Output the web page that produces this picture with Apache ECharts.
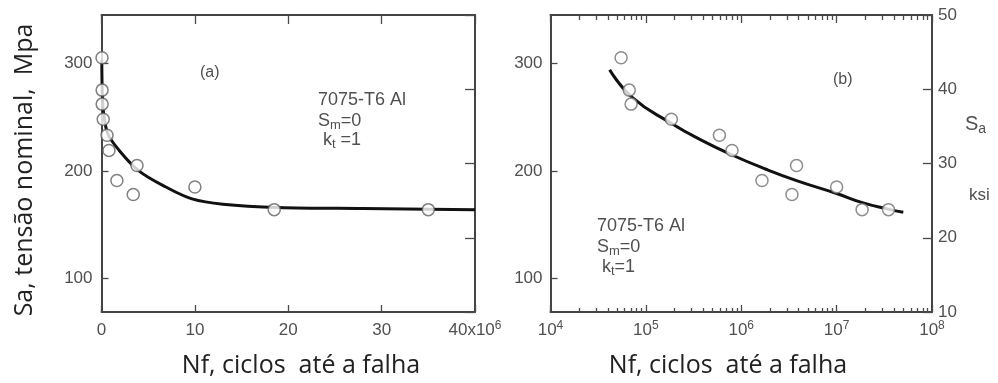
<!DOCTYPE html>
<html>
<head>
<meta charset="utf-8">
<title>7075-T6 Al - Sa x Nf</title>
<script src="https://cdn.jsdelivr.net/npm/echarts@6/dist/echarts.min.js"></script>
<style>
  html, body { margin: 0; padding: 0; background: #fff; }
  #chart { width: 998px; height: 383px; }
</style>
</head>
<body>
<div id="chart"></div>
<script>
  // pontos experimentais: Nf (ciclos) e Sa (MPa)
  var nfPoints = [5.5e4, 6.7e4, 7.0e4, 1.85e5, 5.9e5, 8.0e5, 1.65e6, 3.4e6, 3.8e6, 1.0e7, 1.85e7, 3.5e7];
  var saPoints = [305, 275, 262, 248, 233, 219, 191, 178, 205, 185, 164, 164];

  // curva ajustada do painel (a), eixo linear
  var curveANf = [0.03e6, 0.1e6, 0.25e6, 0.7e6, 1.9e6, 4.0e6, 6.9e6, 9.7e6, 13e6, 19e6, 28e6, 40e6];
  var curveASa = [303, 268, 252, 234, 219, 200, 185, 174, 169, 166, 165, 164];

  // curva ajustada do painel (b), eixo log
  var curveBNf = [4.17e4, 7.24e4, 1.86e5, 3.72e5, 8.13e5, 1.82e6, 3.8e6, 1.0e7, 1.86e7, 3.47e7, 5.0e7];
  var curveBSa = [294, 268, 244, 229, 214.5, 201.5, 191, 179, 170.5, 164.5, 161.5];

  var mpaTicks = [100, 200, 300];
  var ksiMin = 10, ksiMax = 50;          // eixo da direita
  var mpaPerKsi = 6.8948;
  var minorSteps = [2, 3, 4, 5, 6, 7, 8, 9];
  var decades = [4, 5, 6, 7];

  // posicoes (em log10) dos tracos menores do painel (b)
  var minorLog = [];
  decades.forEach(function (d) {
    minorSteps.forEach(function (m) { minorLog.push(d + Math.log10(m)); });
  });

  function pairs(xs, ys) {
    return xs.map(function (x, i) { return [x, ys[i]]; });
  }

  var frame = '#444';
  var numColor = '#505050';
  var numFont = 'Liberation Sans';
  var rich = {
    n: { fontSize: 17, fontFamily: numFont, color: numColor, lineHeight: 20 },
    sup: { fontSize: 12, fontFamily: numFont, color: numColor, lineHeight: 20, verticalAlign: 'top' }
  };

  function line(show) {
    return { show: show, onZero: false, lineStyle: { color: frame, width: 2 } };
  }
  function ticks(len, extra) {
    var t = { show: true, inside: true, length: len, lineStyle: { color: '#4a4a4a', width: 1.3 } };
    for (var k in extra) t[k] = extra[k];
    return t;
  }
  var noLabel = { show: false };
  var minorLabel = { show: true, customValues: minorLog, formatter: function () { return ''; } };

  var subRich = {
    s: { fontSize: 18, fontFamily: numFont, fill: numColor, lineHeight: 22 },
    b: { fontSize: 13, fontFamily: numFont, fill: numColor, lineHeight: 22, verticalAlign: 'bottom' }
  };
  function note(x, y, text) {
    return {
      type: 'text', x: x, y: y,
      style: { text: text, align: 'left', verticalAlign: 'middle', rich: subRich }
    };
  }
  function plain(x, y, text, size) {
    return {
      type: 'text', x: x, y: y,
      style: { text: text, font: size + 'px "Liberation Sans"', fill: numColor, align: 'left', verticalAlign: 'middle' }
    };
  }

  var chart = echarts.init(document.getElementById('chart'));

  chart.setOption({
    animation: false,
    backgroundColor: '#fff',
    grid: [
      { left: 101.5, right: 523, top: 15, bottom: 71, outerBoundsMode: 'none' },
      { left: 550.5, right: 66, top: 15, bottom: 71, outerBoundsMode: 'none' },
      // mesma area do painel (b), so para os tracos menores
      { left: 550.5, right: 66, top: 15, bottom: 71, outerBoundsMode: 'none' }
    ],
    xAxis: [
      {
        gridIndex: 0, type: 'value', position: 'bottom', min: 0, max: 40e6, interval: 10e6,
        axisLine: line(true), axisTick: ticks(7), splitLine: { show: false },
        axisLabel: {
          margin: 8, fontSize: 17, fontFamily: numFont, color: numColor, rich: rich,
          formatter: function (v) {
            var m = Math.round(v / 1e6);
            return m === 40 ? '{n|40x10}{sup|6}' : '{n|' + m + '}';
          }
        }
      },
      {
        gridIndex: 0, type: 'value', position: 'top', min: 0, max: 40e6, interval: 10e6,
        axisLine: line(true), axisTick: ticks(9), splitLine: { show: false }, axisLabel: noLabel
      },
      {
        gridIndex: 1, type: 'log', logBase: 10, position: 'bottom', min: 1e4, max: 1e8,
        axisLine: line(true), axisTick: ticks(7), splitLine: { show: false },
        axisLabel: {
          margin: 8, fontSize: 17, fontFamily: numFont, color: numColor, rich: rich,
          formatter: function (v) {
            return '{n|10}{sup|' + Math.round(Math.log10(v)) + '}';
          }
        }
      },
      {
        gridIndex: 1, type: 'log', logBase: 10, position: 'top', min: 1e4, max: 1e8,
        axisLine: line(true), axisTick: ticks(8), splitLine: { show: false }, axisLabel: noLabel
      },
      {
        gridIndex: 2, type: 'value', position: 'bottom', min: 4, max: 8,
        axisLine: line(false), axisTick: ticks(4, { customValues: minorLog }),
        splitLine: { show: false }, axisLabel: minorLabel
      },
      {
        gridIndex: 2, type: 'value', position: 'top', min: 4, max: 8,
        axisLine: line(false), axisTick: ticks(5, { customValues: minorLog }),
        splitLine: { show: false }, axisLabel: minorLabel
      }
    ],
    yAxis: [
      {
        gridIndex: 0, type: 'value', position: 'left',
        min: ksiMin * mpaPerKsi, max: ksiMax * mpaPerKsi,
        axisLine: line(true), axisTick: ticks(7, { customValues: mpaTicks }),
        splitLine: { show: false },
        axisLabel: { customValues: mpaTicks, margin: 9, fontSize: 17, fontFamily: numFont, color: numColor }
      },
      {
        gridIndex: 0, type: 'value', position: 'right', min: ksiMin, max: ksiMax, interval: 10,
        axisLine: line(true), axisTick: ticks(10), splitLine: { show: false }, axisLabel: noLabel
      },
      {
        gridIndex: 1, type: 'value', position: 'left',
        min: ksiMin * mpaPerKsi, max: ksiMax * mpaPerKsi,
        axisLine: line(true), axisTick: ticks(7, { customValues: mpaTicks }),
        splitLine: { show: false },
        axisLabel: { customValues: mpaTicks, margin: 8, fontSize: 17, fontFamily: numFont, color: numColor }
      },
      {
        gridIndex: 1, type: 'value', position: 'right', min: ksiMin, max: ksiMax, interval: 10,
        axisLine: line(true), axisTick: ticks(9), splitLine: { show: false },
        axisLabel: { margin: 6, fontSize: 17, fontFamily: numFont, color: numColor }
      },
      {
        gridIndex: 2, type: 'value', min: 0, max: 1, show: false
      }
    ],
    series: [
      {
        type: 'line', xAxisIndex: 0, yAxisIndex: 0, data: pairs(curveANf, curveASa),
        smooth: 0.35, showSymbol: false, z: 2,
        lineStyle: { color: '#111', width: 3 }
      },
      {
        type: 'scatter', xAxisIndex: 0, yAxisIndex: 0, data: pairs(nfPoints, saPoints),
        symbol: 'circle', symbolSize: 12, z: 3,
        itemStyle: { color: '#fff', borderColor: '#606060', borderWidth: 1.5 }
      },
      {
        type: 'line', xAxisIndex: 2, yAxisIndex: 2, data: pairs(curveBNf, curveBSa),
        smooth: 0.5, showSymbol: false, z: 2,
        lineStyle: { color: '#111', width: 3 }
      },
      {
        type: 'scatter', xAxisIndex: 2, yAxisIndex: 2, data: pairs(nfPoints, saPoints),
        symbol: 'circle', symbolSize: 12, z: 3,
        itemStyle: { color: '#fff', borderColor: '#707070', borderWidth: 1.5 }
      }
    ],
    graphic: [
      // titulos dos eixos
      {
        type: 'text', x: 25, y: 170, rotation: Math.PI / 2,
        style: { text: 'Sa, tensão nominal,  Mpa', font: '25px "Open Sans"', fill: '#222', align: 'center', verticalAlign: 'middle' }
      },
      {
        type: 'text', x: 301, y: 366,
        style: { text: 'Nf, ciclos  até a falha', font: '25px "Open Sans"', fill: '#222', align: 'center', verticalAlign: 'middle' }
      },
      {
        type: 'text', x: 728, y: 366,
        style: { text: 'Nf, ciclos  até a falha', font: '25px "Open Sans"', fill: '#222', align: 'center', verticalAlign: 'middle' }
      },
      // eixo da direita do painel (b)
      {
        type: 'text', x: 965, y: 124,
        style: {
          text: '{s|S}{b|a}', align: 'left', verticalAlign: 'middle',
          rich: {
            s: { fontSize: 20, fontFamily: numFont, fill: numColor, lineHeight: 24 },
            b: { fontSize: 14, fontFamily: numFont, fill: numColor, lineHeight: 24, verticalAlign: 'bottom' }
          }
        }
      },
      plain(969, 195, 'ksi', 17),
      // anotacoes painel (a)
      plain(200, 73, '(a)', 16),
      plain(318, 100, '7075-T6 Al', 18),
      note(318, 121, '{s|S}{b|m}{s|=0}'),
      note(323, 140, '{s|k}{b|t}{s| =1}'),
      // anotacoes painel (b)
      plain(833, 80, '(b)', 16),
      plain(597, 226, '7075-T6 Al', 18),
      note(597, 247, '{s|S}{b|m}{s|=0}'),
      note(602, 267, '{s|k}{b|t}{s|=1}')
    ]
  });
</script>
</body>
</html>
